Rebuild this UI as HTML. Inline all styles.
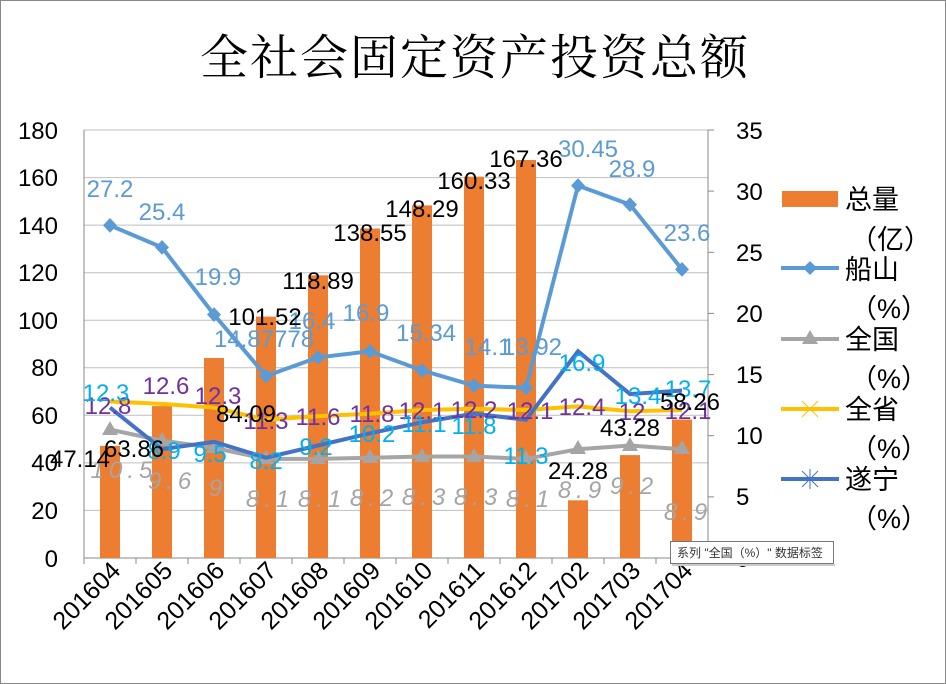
<!DOCTYPE html>
<html><head><meta charset="utf-8"><style>
body{margin:0;background:#fff}
svg{display:block}
text{font-family:"Liberation Sans","Noto Sans CJK SC",sans-serif}
.cj{font-family:"Noto Serif CJK SC","Noto Sans CJK SC",serif}
</style></head><body>
<svg width="946" height="684" viewBox="0 0 946 684" xmlns="http://www.w3.org/2000/svg">
<rect x="0.5" y="0.5" width="945" height="683" fill="#fff" stroke="#888"/>
<text x="475" y="74" text-anchor="middle" font-size="48" class="cj" letter-spacing="2">全社会固定资产投资总额</text>
<g stroke="#bfbfbf" stroke-width="1">
<line x1="84" y1="130" x2="708" y2="130"/><line x1="84" y1="177.6" x2="708" y2="177.6"/>
<line x1="84" y1="225.1" x2="708" y2="225.1"/><line x1="84" y1="272.7" x2="708" y2="272.7"/>
<line x1="84" y1="320.2" x2="708" y2="320.2"/><line x1="84" y1="367.8" x2="708" y2="367.8"/>
<line x1="84" y1="415.3" x2="708" y2="415.3"/><line x1="84" y1="462.9" x2="708" y2="462.9"/>
<line x1="84" y1="510.4" x2="708" y2="510.4"/>
</g>
<g stroke="#888" stroke-width="1">
<line x1="84" y1="130" x2="84" y2="558"/>
<line x1="708" y1="130" x2="708" y2="558"/>
<line x1="84" y1="558" x2="708" y2="558"/>
<line x1="708" y1="130" x2="714" y2="130"/><line x1="708" y1="191.1" x2="714" y2="191.1"/><line x1="708" y1="252.3" x2="714" y2="252.3"/><line x1="708" y1="313.4" x2="714" y2="313.4"/><line x1="708" y1="374.6" x2="714" y2="374.6"/><line x1="708" y1="435.7" x2="714" y2="435.7"/><line x1="708" y1="496.9" x2="714" y2="496.9"/><line x1="708" y1="558" x2="714" y2="558"/>
<line x1="136" y1="558" x2="136" y2="564"/><line x1="188" y1="558" x2="188" y2="564"/><line x1="240" y1="558" x2="240" y2="564"/><line x1="292" y1="558" x2="292" y2="564"/><line x1="344" y1="558" x2="344" y2="564"/><line x1="396" y1="558" x2="396" y2="564"/><line x1="448" y1="558" x2="448" y2="564"/><line x1="500" y1="558" x2="500" y2="564"/><line x1="552" y1="558" x2="552" y2="564"/><line x1="604" y1="558" x2="604" y2="564"/><line x1="656" y1="558" x2="656" y2="564"/><line x1="84" y1="558" x2="84" y2="564"/>
</g>
<g font-size="24" text-anchor="end" fill="#000">
<text x="58" y="139">180</text><text x="58" y="186">160</text><text x="58" y="234">140</text><text x="58" y="281">120</text><text x="58" y="329">100</text><text x="58" y="376">80</text><text x="58" y="424">60</text><text x="58" y="471">40</text><text x="58" y="519">20</text><text x="58" y="567">0</text>
</g>
<g font-size="24" fill="#000">
<text x="736" y="139">35</text><text x="736" y="200">30</text><text x="736" y="261">25</text><text x="736" y="322">20</text><text x="736" y="383">15</text><text x="736" y="444">10</text><text x="736" y="505">5</text><text x="736" y="567">0</text>
</g>
<g fill="#ED7D31">
<rect x="100" y="445.9" width="20" height="112.1"/><rect x="152" y="406.1" width="20" height="151.9"/><rect x="204" y="358" width="20" height="200"/><rect x="256" y="316.6" width="20" height="241.4"/><rect x="308" y="275.3" width="20" height="282.7"/><rect x="360" y="228.5" width="20" height="329.5"/><rect x="412" y="205.4" width="20" height="352.6"/><rect x="464" y="176.7" width="20" height="381.3"/><rect x="516" y="160" width="20" height="398"/><rect x="568" y="500.3" width="20" height="57.7"/><rect x="620" y="455.1" width="20" height="102.9"/><rect x="672" y="419.5" width="20" height="138.5"/>
</g>
<polyline fill="none" stroke="#A5A5A5" stroke-width="4" points="110,429.6 162,440.6 214,447.9 266,458.9 318,458.9 370,457.7 422,456.5 474,456.5 526,458.9 578,449.2 630,445.5 682,449.2"/>
<g fill="#A5A5A5">
<path d="M110,421l8,14h-16z"/><path d="M162,432l8,14h-16z"/><path d="M214,439l8,14h-16z"/><path d="M266,450l8,14h-16z"/><path d="M318,450l8,14h-16z"/><path d="M370,449l8,14h-16z"/><path d="M422,448l8,14h-16z"/><path d="M474,448l8,14h-16z"/><path d="M526,450l8,14h-16z"/><path d="M578,440l8,14h-16z"/><path d="M630,437l8,14h-16z"/><path d="M682,440l8,14h-16z"/>
</g>
<polyline fill="none" stroke="#FFC000" stroke-width="4" points="110,401.5 162,403.9 214,407.6 266,419.8 318,416.1 370,413.7 422,410 474,408.8 526,410 578,406.4 630,411.3 682,410"/>
<polyline fill="none" stroke="#4472C4" stroke-width="4" points="110,407.6 162,449.2 214,441.8 266,457.7 318,445.5 370,433.3 422,422.3 474,413.7 526,419.8 578,351.3 630,394.1 682,390.5"/>
<polyline fill="none" stroke="#5B9BD5" stroke-width="4" points="110,225.4 162,247.4 214,314.6 266,376 318,357.4 370,351.3 422,370.4 474,385.6 526,387.8 578,185.6 630,204.6 682,269.4"/>
<g fill="#5B9BD5">
<path d="M110,218l7,7.4-7,7.4-7-7.4z"/><path d="M162,240l7,7.4-7,7.4-7-7.4z"/><path d="M214,307.2l7,7.4-7,7.4-7-7.4z"/><path d="M266,368.6l7,7.4-7,7.4-7-7.4z"/><path d="M318,350l7,7.4-7,7.4-7-7.4z"/><path d="M370,343.9l7,7.4-7,7.4-7-7.4z"/><path d="M422,363l7,7.4-7,7.4-7-7.4z"/><path d="M474,378.2l7,7.4-7,7.4-7-7.4z"/><path d="M526,380.4l7,7.4-7,7.4-7-7.4z"/><path d="M578,178.2l7,7.4-7,7.4-7-7.4z"/><path d="M630,197.2l7,7.4-7,7.4-7-7.4z"/><path d="M682,262l7,7.4-7,7.4-7-7.4z"/>
</g>
<g font-size="24" fill="#5B9BD5" text-anchor="middle">
<text x="110" y="197">27.2</text><text x="162" y="220">25.4</text><text x="218" y="285">19.9</text><text x="264" y="347">14.87778</text><text x="312" y="329">16.4</text><text x="366" y="321">16.9</text><text x="426" y="341">15.34</text><text x="488" y="355">14.1</text><text x="532" y="355">13.92</text><text x="588" y="157">30.45</text><text x="632" y="177">28.9</text><text x="687" y="241">23.6</text>
</g>
<g font-size="24" fill="#A5A5A5" text-anchor="middle" font-style="italic" letter-spacing="5">
<text x="124" y="478">10.5</text><text x="172" y="489">9.6</text><text x="218" y="496">9</text><text x="270" y="507">8.1</text><text x="322" y="507">8.1</text><text x="374" y="506">8.2</text><text x="426" y="505">8.3</text><text x="478" y="505">8.3</text><text x="530" y="507">8.1</text><text x="582" y="498">8.9</text><text x="634" y="494">9.2</text><text x="688" y="520">8.9</text>
</g>
<g font-size="24" fill="#7030A0" text-anchor="middle">
<text x="108" y="414">12.8</text><text x="166" y="394">12.6</text><text x="218" y="404">12.3</text><text x="266" y="429">11.3</text><text x="318" y="425">11.6</text><text x="372" y="422">11.8</text><text x="422" y="419">12.1</text><text x="474" y="418">12.2</text><text x="530" y="419">12.1</text><text x="582" y="415">12.4</text><text x="632" y="420">12</text><text x="688" y="419">12.1</text>
</g>
<g font-size="24" fill="#00B0F0" text-anchor="middle">
<text x="106" y="401">12.3</text><text x="164" y="459">8.9</text><text x="210" y="462">9.5</text><text x="266" y="469">8.2</text><text x="316" y="455">9.2</text><text x="372" y="442">10.2</text><text x="424" y="432">11.1</text><text x="474" y="434">11.8</text><text x="526" y="464">11.3</text><text x="582" y="371">16.9</text><text x="638" y="404">13.4</text><text x="688" y="397">13.7</text>
</g>
<g font-size="24" fill="#000" text-anchor="middle">
<text x="80" y="467">47.14</text><text x="134" y="457">63.86</text><text x="246" y="422">84.09</text><text x="265" y="325">101.52</text><text x="318" y="289">118.89</text><text x="370" y="241">138.55</text><text x="422" y="217">148.29</text><text x="474" y="189">160.33</text><text x="526" y="167">167.36</text><text x="578" y="479">24.28</text><text x="630" y="436">43.28</text><text x="690" y="410">58.26</text>
</g>
<g font-size="25" fill="#000" text-anchor="end">
<text transform="translate(122,572) rotate(-45)">201604</text><text transform="translate(174,572) rotate(-45)">201605</text><text transform="translate(226,572) rotate(-45)">201606</text><text transform="translate(278,572) rotate(-45)">201607</text><text transform="translate(330,572) rotate(-45)">201608</text><text transform="translate(382,572) rotate(-45)">201609</text><text transform="translate(434,572) rotate(-45)">201610</text><text transform="translate(486,572) rotate(-45)">201611</text><text transform="translate(538,572) rotate(-45)">201612</text><text transform="translate(590,572) rotate(-45)">201702</text><text transform="translate(642,572) rotate(-45)">201703</text><text transform="translate(694,572) rotate(-45)">201704</text>
</g>
<rect x="782" y="191" width="56" height="16" fill="#ED7D31"/>
<line x1="781" y1="268" x2="839" y2="268" stroke="#5B9BD5" stroke-width="4"/><path d="M810,261l7,7-7,7-7-7z" fill="#5B9BD5"/>
<line x1="781" y1="339" x2="839" y2="339" stroke="#A5A5A5" stroke-width="4"/><path d="M810,330l8,14h-16z" fill="#A5A5A5"/>
<line x1="781" y1="409" x2="839" y2="409" stroke="#FFC000" stroke-width="4"/><path d="M802,401l16,16M818,401l-16,16" stroke="#FFC000" stroke-width="1"/>
<line x1="781" y1="479" x2="839" y2="479" stroke="#4472C4" stroke-width="4"/><path d="M802,471l16,16M818,471l-16,16M810,469v20" stroke="#4472C4" stroke-width="1"/>
<g font-size="27" class="cj" fill="#000">
<text x="845" y="209">总量</text><text x="850" y="249">（亿）</text>
<text x="845" y="279">船山</text><text x="850" y="318">（%）</text>
<text x="845" y="349">全国</text><text x="850" y="388">（%）</text>
<text x="845" y="419">全省</text><text x="850" y="458">（%）</text>
<text x="845" y="489">遂宁</text><text x="850" y="528">（%）</text>
</g>
<rect x="670.5" y="541.5" width="163" height="22" fill="#fff" stroke="#777"/>
<line x1="672" y1="565" x2="835" y2="565" stroke="#ccc" stroke-width="2"/>
<text x="677" y="557" font-size="12" fill="#333">系列 "全国（%）" 数据标签</text>
</svg>
</body></html>
